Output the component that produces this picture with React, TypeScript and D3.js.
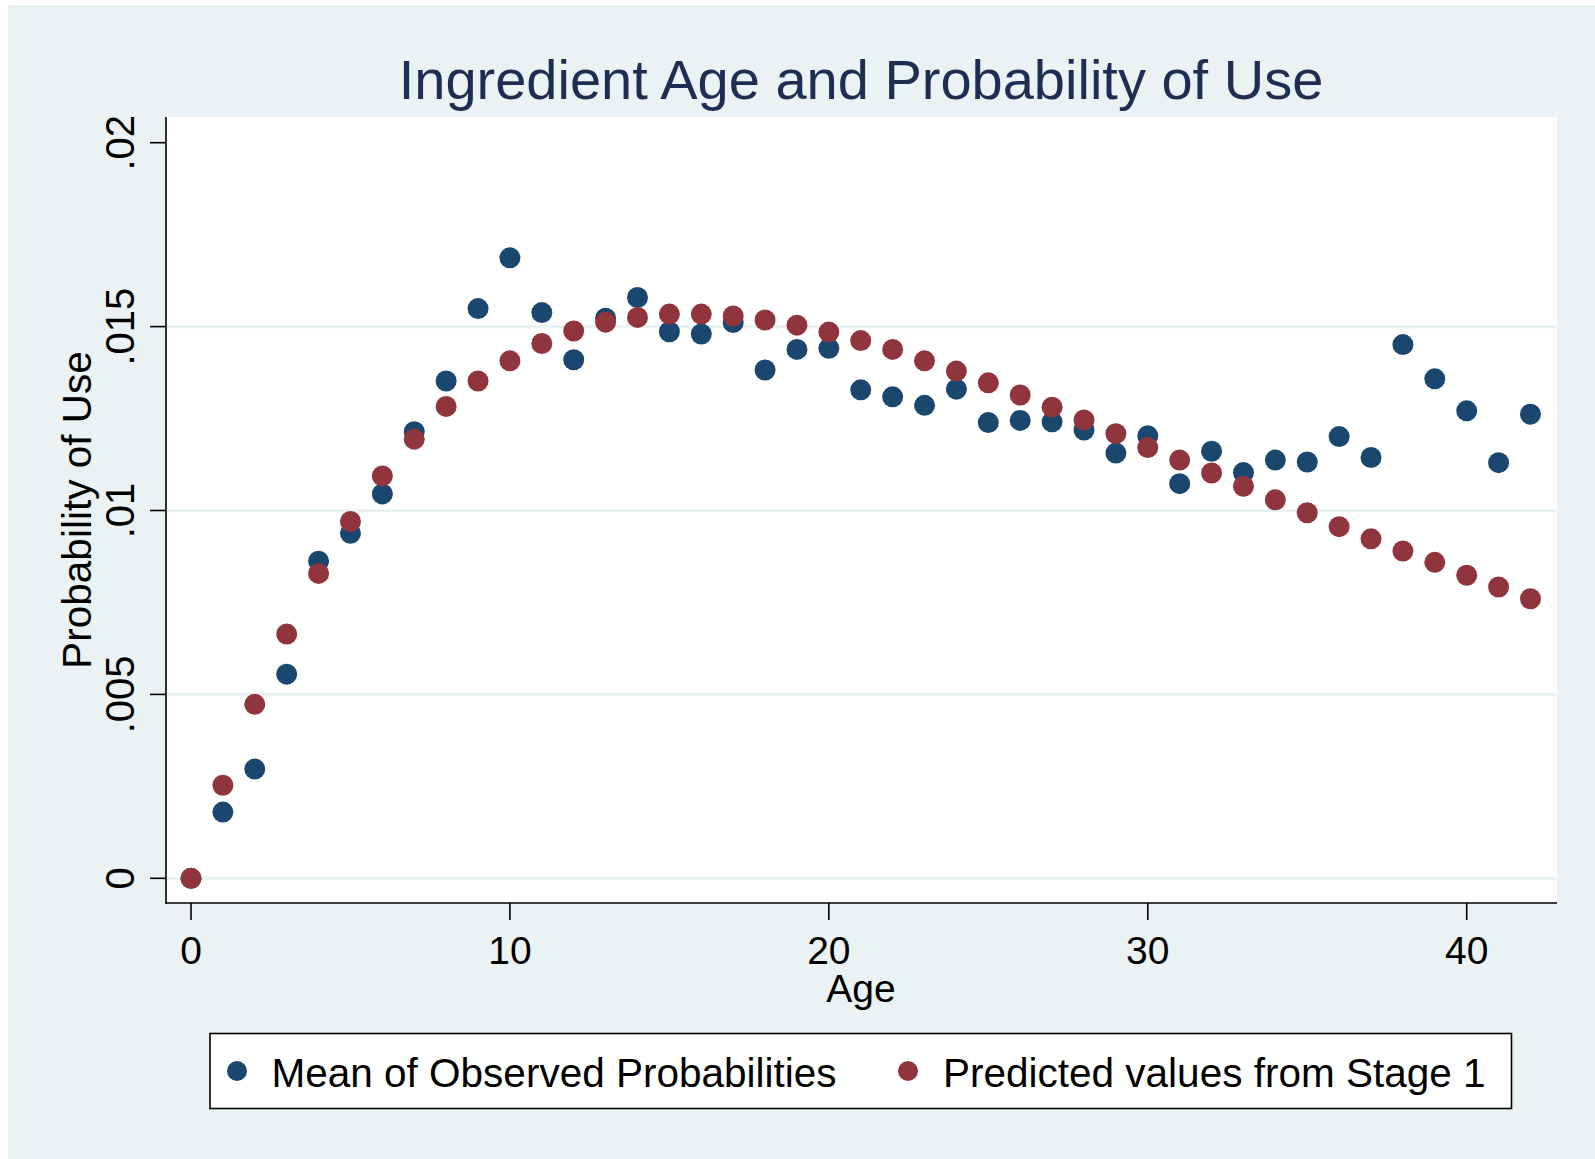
import React from "react";
import * as d3 from "d3";

const ages: number[] = Array.from({ length: 43 }, (_, i) => i);

const observed: number[] = [
  0, 0.0018, 0.00297, 0.00555, 0.00862, 0.00938, 0.01045, 0.01214, 0.01352, 0.01549,
  0.01687, 0.01538, 0.0141, 0.01523, 0.01579, 0.01486, 0.0148, 0.01511, 0.01382, 0.01438,
  0.01441, 0.01328, 0.01309, 0.01286, 0.0133, 0.01239, 0.01245, 0.01241, 0.01219, 0.01156,
  0.01203, 0.01073, 0.01161, 0.01103, 0.01137, 0.01132, 0.01201, 0.01144, 0.01451, 0.01358,
  0.01271, 0.0113, 0.01262,
];

const predicted: number[] = [
  0, 0.00253, 0.00473, 0.00664, 0.00829, 0.0097, 0.01094, 0.01194, 0.01283, 0.01352,
  0.01407, 0.01454, 0.01488, 0.01512, 0.01525, 0.01534, 0.01534, 0.01529, 0.01518, 0.01504,
  0.01485, 0.01462, 0.01438, 0.01407, 0.01379, 0.01347, 0.01314, 0.01281, 0.01246, 0.01209,
  0.01171, 0.01137, 0.01102, 0.01066, 0.01029, 0.00994, 0.00956, 0.00923, 0.0089, 0.00859,
  0.00824, 0.00792, 0.0076,
];

const xTicks: number[] = [0, 10, 20, 30, 40];
const yTicks: number[] = [0, 0.005, 0.01, 0.015, 0.02];
const yTickLabels: string[] = ["0", ".005", ".01", ".015", ".02"];
const gridValues: number[] = [0, 0.005, 0.01, 0.015];

const seriesNames: string[] = ["Mean of Observed Probabilities", "Predicted values from Stage 1"];
const titleText = "Ingredient Age and Probability of Use";
const xTitle = "Age";
const yTitle = "Probability of Use";

const NAVY = "#1A476F";
const MAROON = "#90353B";
const BG = "#EAF2F3";
const FONT = "'Liberation Sans', Arial, Helvetica, sans-serif";

export default function App() {
  const W = 1595;
  const H = 1159;
  const plotL = 166;
  const plotR = 1557;
  const plotT = 117;
  const plotB = 903;

  const x = d3.scaleLinear().domain([0, 40]).range([191, 1466.7]);
  const y = d3.scaleLinear().domain([0, 0.02]).range([878.3, 142.7]);

  const r = 10.5;

  return (
    <svg
      width={W}
      height={H}
      style={{ position: "absolute", left: 0, top: 0, display: "block" }}
      fontFamily={FONT}
    >
      <rect x={0} y={0} width={W} height={H} fill="#ffffff" />
      <rect x={8} y={5} width={W - 8} height={H - 5} fill={BG} />
      <text x={861} y={99.3} textAnchor="middle" fontSize={56} fill="#1E2D53">
        {titleText}
      </text>
      {/* plot region */}
      <rect x={plotL} y={plotT} width={plotR - plotL} height={plotB - plotT} fill="#ffffff" />
      {gridValues.map((v) => (
        <line key={"g" + v} x1={plotL} x2={plotR} y1={y(v)} y2={y(v)} stroke={BG} strokeWidth={3.2} />
      ))}
      {/* axes */}
      <line x1={plotL} x2={plotL} y1={plotT} y2={plotB + 0.8} stroke="#000" strokeWidth={1.6} />
      <line x1={plotL - 0.8} x2={plotR} y1={plotB} y2={plotB} stroke="#000" strokeWidth={1.6} />
      {yTicks.map((v, i) => (
        <g key={"yt" + v}>
          <line x1={150} x2={plotL} y1={y(v)} y2={y(v)} stroke="#000" strokeWidth={1.6} />
          <text
            transform={`translate(134,${y(v)}) rotate(-90)`}
            textAnchor="middle"
            fontSize={40}
            fill="#000"
          >
            {yTickLabels[i]}
          </text>
        </g>
      ))}
      {xTicks.map((v) => (
        <g key={"xt" + v}>
          <line x1={x(v)} x2={x(v)} y1={plotB} y2={920} stroke="#000" strokeWidth={1.6} />
          <text x={x(v)} y={963.5} textAnchor="middle" fontSize={39} fill="#000">
            {String(v)}
          </text>
        </g>
      ))}
      <text x={861} y={1001.7} textAnchor="middle" fontSize={39} fill="#000">
        {xTitle}
      </text>
      <text transform={`translate(91,510) rotate(-90)`} textAnchor="middle" fontSize={40.5} fill="#000">
        {yTitle}
      </text>
      {/* markers */}
      {ages.map((a, i) => (
        <circle key={"o" + a} cx={x(a)} cy={y(observed[i])} r={r} fill={NAVY} />
      ))}
      {ages.map((a, i) => (
        <circle key={"p" + a} cx={x(a)} cy={y(predicted[i])} r={r} fill={MAROON} />
      ))}
      {/* legend */}
      <rect x={210} y={1033.5} width={1301.5} height={75} fill="#ffffff" stroke="#000" strokeWidth={1.6} />
      <circle cx={237} cy={1071} r={10} fill={NAVY} />
      <text x={271.5} y={1087} fontSize={40.5} fill="#000">
        {seriesNames[0]}
      </text>
      <circle cx={908} cy={1071} r={10} fill={MAROON} />
      <text x={943} y={1087} fontSize={40.5} fill="#000">
        {seriesNames[1]}
      </text>
    </svg>
  );
}
